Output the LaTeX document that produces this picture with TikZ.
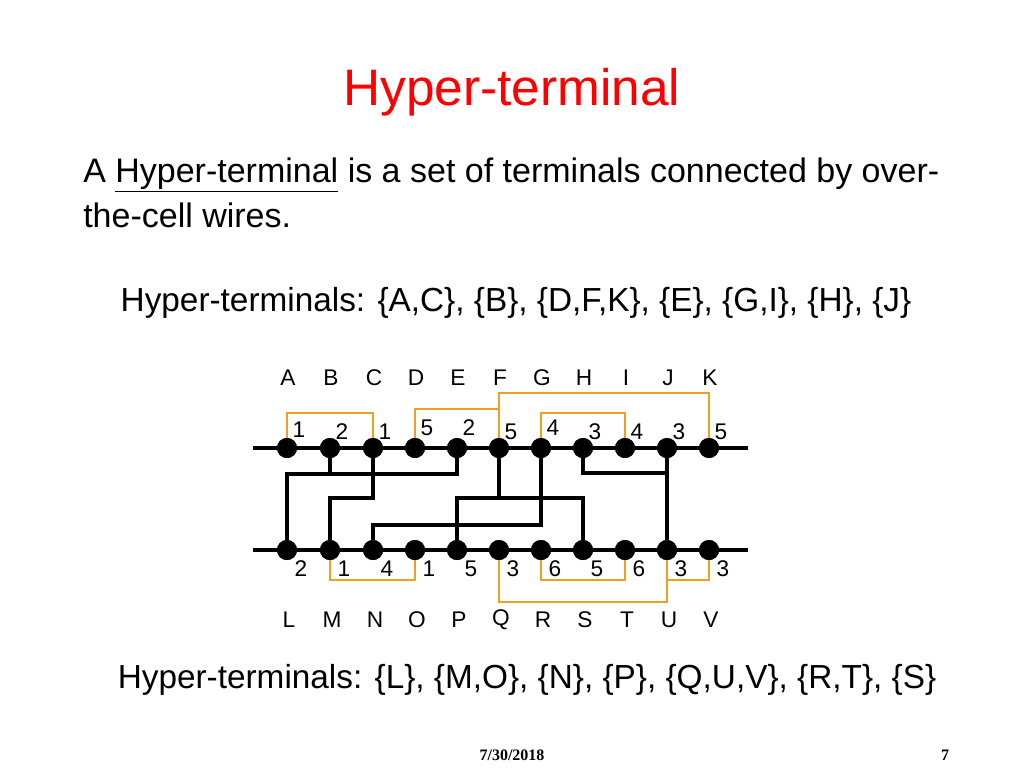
\documentclass[tikz,border=0pt]{standalone}
\usepackage{fontspec}
\setmainfont{Liberation Sans}
\newfontfamily\serifb{Liberation Serif}
\usetikzlibrary{calc}
\begin{document}
\begin{tikzpicture}[x=0.75pt,y=-0.75pt,
  rail/.style={line width=2.4pt},
  wire/.style={line width=2.4pt,line join=miter},
  hwire/.style={line width=2.2pt,draw={rgb,255:red,240;green,160;blue,32}},
  dot/.style={circle,fill=black,inner sep=0pt,minimum size=15pt},
  num/.style={font=\fontsize{17}{17}\selectfont,inner sep=0pt},
  lab/.style={font=\fontsize{17}{17}\selectfont,inner sep=0pt}]
\useasboundingbox (0,0) rectangle (1024,768);
\node[text=red,font=\fontsize{38.5}{38.5}\selectfont] (title) at (512,92) {Hyper-terminal};
\node[anchor=west,font=\fontsize{25.5}{25.5}\selectfont,inner sep=0pt] (t1) at (83,175) {A \underline{Hyper-terminal} is a set of terminals connected by over-};
\node[anchor=west,font=\fontsize{25.5}{25.5}\selectfont,inner sep=0pt] (t2) at (83,215) {the-cell wires.};
\node[font=\fontsize{25}{25}\selectfont,inner sep=0pt] (h1) at (516,303) {Hyper-terminals: \{A,C\}, \{B\}, \{D,F,K\}, \{E\}, \{G,I\}, \{H\}, \{J\}};
\node[font=\fontsize{25}{25}\selectfont,inner sep=0pt] (h2) at (527,680) {Hyper-terminals: \{L\}, \{M,O\}, \{N\}, \{P\}, \{Q,U,V\}, \{R,T\}, \{S\}};
\node[font=\serifb\bfseries\fontsize{12}{12}\selectfont] (date) at (512,755) {7/30/2018};
\node[font=\serifb\bfseries\fontsize{12}{12}\selectfont] (pg) at (945,755) {7};
% rails
\coordinate (tl) at (253,448); \coordinate (tr) at (748,448);
\coordinate (bl) at (253,550); \coordinate (br) at (748,550);
\draw[rail] (tl) -- (tr);
\draw[rail] (bl) -- (br);
% dots
\foreach \n/\x in {A/287,B/330,C/373,D/415,E/457,F/499,G/541,H/583,I/625,J/667,K/709}{
  \node[dot] (\n) at (\x,448) {};
  \node[lab] (l\n) at (\x+1,378) {\n};}
\foreach \n/\x in {L/287,M/330,N/373,O/415,P/457,Q/499,R/541,S/583,T/625,U/667,V/709}{
  \node[dot] (\n) at (\x,550) {};
  \node[lab] (l\n) at (\x+2,620) {\n};}
% numbers
\foreach \n/\v/\dy in {A/1/-2,B/2/0,C/1/0,D/5/-4,E/2/-4,F/5/0,G/4/-4,H/3/0,I/4/0,J/3/0,K/5/0}{
  \node[num] (n\n) at ($(\n)+(12,-16+\dy)$) {\v};}
\foreach \n/\v in {L/2,M/1,N/4,O/1,P/5,Q/3,R/6,S/5,T/6,U/3,V/3}{
  \node[num] (n\n) at ($(\n)+(14,19)$) {\v};}
% black wires
\draw[wire] (L) |- (457,474) -- (E);
\draw[wire] (B) -- ++(0,26);
\draw[wire] (C) |- (330,498) -- (M);
\draw[wire] (P) |- (583,498) -- (S);
\draw[wire] (F) -- ++(0,50);
\draw[wire] (G) |- (373,525) -- (N);
\draw[wire] (H) |- (667,473);
\draw[wire] (J) -- (U);
% orange wires
\draw[hwire] (A) -- ++(0,-35) -| (C);
\draw[hwire] (D) -- ++(0,-39) -| (F);
\draw[hwire] (F) -- ++(0,-55) -| (K);
\draw[hwire] (G) -- ++(0,-35) -| (I);
\draw[hwire] (M) -- ++(0,30) -| (O);
\draw[hwire] (Q) -- ++(0,52) -| (U);
\draw[hwire] (R) -- ++(0,30) -| (T);
\draw[hwire] (U) -- ++(0,30) -| (V);
\foreach \n in {A,B,C,D,E,F,G,H,I,J,K,L,M,N,O,P,Q,R,S,T,U,V} \node[dot] at (\n) {};
\end{tikzpicture}
\end{document}
